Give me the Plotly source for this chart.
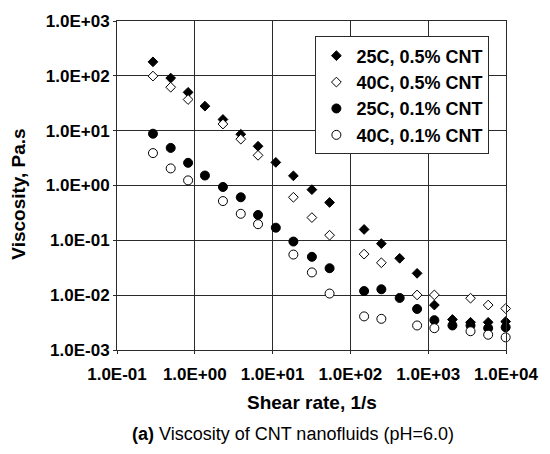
import plotly.graph_objects as go

# ---- data ----
# 25C, 0.5% CNT
x_25_05 = [0.29, 0.49, 0.82, 1.35, 2.3, 3.9, 6.5, 11, 18.5, 32, 54, 150, 250, 430, 720, 1200, 2050, 3500, 5900, 9900]
y_25_05 = [180, 91, 50, 28, 16, 8.6, 5.2, 2.64, 1.5, 0.84, 0.49, 0.158, 0.087, 0.047, 0.025, 0.0066, 0.0036, 0.0032, 0.0032, 0.0033]
# 40C, 0.5% CNT
x_40_05 = [0.29, 0.49, 0.82, 2.3, 3.9, 6.5, 18.5, 32, 54, 150, 250, 720, 1200, 3500, 5900, 9900]
y_40_05 = [99, 62, 37, 13.2, 7.0, 3.55, 0.61, 0.26, 0.124, 0.056, 0.039, 0.0101, 0.0101, 0.0088, 0.0066, 0.0057]
# 25C, 0.1% CNT
x_25_01 = [0.29, 0.49, 0.82, 1.35, 2.3, 3.9, 6.5, 11, 18.5, 32, 54, 150, 250, 430, 720, 1200, 2050, 3500, 5900, 9900]
y_25_01 = [8.8, 4.85, 2.59, 1.52, 0.94, 0.61, 0.29, 0.17, 0.095, 0.050, 0.031, 0.0119, 0.0128, 0.0089, 0.0056, 0.0035, 0.0028, 0.0028, 0.0025, 0.0026]
# 40C, 0.1% CNT
x_40_01 = [0.29, 0.49, 0.82, 2.3, 3.9, 6.5, 18.5, 32, 54, 150, 250, 720, 1200, 3500, 5900, 9900]
y_40_01 = [3.9, 2.05, 1.24, 0.52, 0.305, 0.197, 0.055, 0.026, 0.0107, 0.0041, 0.0037, 0.0028, 0.0025, 0.0022, 0.0019, 0.0017]

series_names = ["25C, 0.5% CNT", "40C, 0.5% CNT", "25C, 0.1% CNT", "40C, 0.1% CNT"]

x_tickvals = [0.1, 1, 10, 100, 1000, 10000]
x_ticktext = ["1.0E-01", "1.0E+00", "1.0E+01", "1.0E+02", "1.0E+03", "1.0E+04"]
y_tickvals = [0.001, 0.01, 0.1, 1, 10, 100, 1000]
y_ticktext = ["1.0E-03", "1.0E-02", "1.0E-01", "1.0E+00", "1.0E+01", "1.0E+02", "1.0E+03"]

FONT = "Liberation Sans, Arial, Helvetica, sans-serif"
GRID = "#2a2a2a"

fig = go.Figure()
styles = [
    dict(symbol="diamond", size=7.5, color="black", line=dict(color="black", width=1)),
    dict(symbol="diamond", size=7.5, color="white", line=dict(color="black", width=1)),
    dict(symbol="circle", size=9, color="black", line=dict(color="black", width=1)),
    dict(symbol="circle", size=9, color="white", line=dict(color="black", width=1)),
]
for xs, ys, name, st in zip([x_25_05, x_40_05, x_25_01, x_40_01],
                            [y_25_05, y_40_05, y_25_01, y_40_01],
                            series_names, styles):
    fig.add_trace(go.Scatter(x=xs, y=ys, mode="markers", name=name,
                             marker=st, cliponaxis=False))

axis_common = dict(
    type="log", showgrid=True, gridcolor=GRID, gridwidth=1,
    showline=True, linecolor=GRID, linewidth=1, mirror=True,
    ticks="outside", ticklen=3, tickcolor=GRID,
    tickfont=dict(family=FONT, size=17, color="black", weight="bold"),
    zeroline=False,
)
fig.update_xaxes(range=[-1, 4], tickvals=x_tickvals, ticktext=x_ticktext,
                 ticklabelstandoff=6, **axis_common)
fig.update_yaxes(range=[-3, 3], tickvals=y_tickvals, ticktext=y_ticktext, **axis_common)

fig.update_layout(
    width=550, height=454,
    margin=dict(l=117, r=35, t=14, b=104),
    paper_bgcolor="white", plot_bgcolor="white",
    font=dict(family=FONT, color="black"),
    showlegend=True,
    legend=dict(x=0.51, y=0.953, xanchor="left", yanchor="top",
                bgcolor="white", bordercolor=GRID, borderwidth=1,
                font=dict(family=FONT, size=18, color="black", weight="bold"),
                tracegroupgap=0),
    annotations=[
        dict(text="<b>Viscosity, Pa.s</b>", xref="paper", yref="paper",
             x=-0.252, y=0.475, textangle=-90, showarrow=False,
             xanchor="center", yanchor="middle",
             font=dict(family=FONT, size=19, color="black")),
        dict(text="<b>Shear rate, 1/s</b>", xref="paper", yref="paper",
             x=0.5, y=-0.16, showarrow=False, xanchor="center", yanchor="middle",
             font=dict(family=FONT, size=19, color="black")),
        dict(text="<b>(a)</b> Viscosity of CNT nanofluids (pH=6.0)", xref="paper", yref="paper",
             x=0.452, y=-0.255, showarrow=False, xanchor="center", yanchor="middle",
             font=dict(family=FONT, size=18, color="black")),
    ],
)

fig.write_html("out.html")
